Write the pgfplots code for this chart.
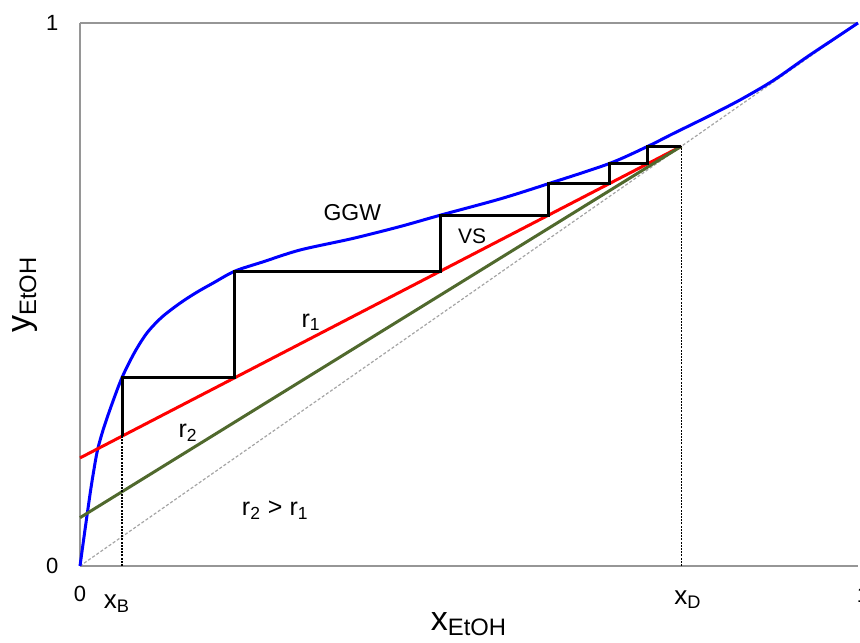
\documentclass[border=0pt]{standalone}
\usepackage{fontspec}
\setmainfont{Liberation Sans}
\usepackage{pgfplots}
\pgfplotsset{compat=1.18}
\definecolor{ggw}{RGB}{0,0,255}
\definecolor{rone}{RGB}{255,0,0}
\definecolor{rtwo}{RGB}{80,105,45}
\definecolor{axgray}{RGB}{150,150,150}
\definecolor{diag}{RGB}{165,165,165}

\begin{document}
\begin{tikzpicture}
\begin{axis}[
  name=ax, at={(0,0)}, anchor=south west,
  scale only axis, width=389pt, height=271.5pt,
  xmin=0, xmax=1, ymin=0, ymax=1,
  axis lines=left, axis line style={-, axgray, line width=0.65pt},
  xtick={0}, ytick={0,1},
  major tick length=0pt,
  tick label style={font=\fontsize{11}{13}\selectfont, text=black},
  /pgf/number format/assume math mode=true,
  xticklabel style={yshift=-6.3pt},
  yticklabel style={xshift=-7.3pt},
  clip=false,
]
\draw[axgray, line width=0.65pt] (rel axis cs:0,1) -- (rel axis cs:1,1);

% diagonal y = x
\addplot[diag, line width=0.6pt, dash pattern=on 1.5pt off 1pt] coordinates {(0,0)(1,1)};

% equilibrium curve (GGW)
\addplot[ggw, line width=1.5pt, smooth, tension=0.5] coordinates {
  (0,0)(0.005,0.052)(0.010,0.103)(0.015,0.152)(0.022,0.210)(0.030,0.252)
  (0.041,0.298)(0.054,0.347)(0.070,0.393)(0.086,0.429)(0.105,0.458)
  (0.1285,0.484)(0.150,0.504)(0.171,0.521)(0.199,0.543)(0.235,0.560)
  (0.283,0.582)(0.350,0.603)(0.411,0.625)(0.463,0.646)(0.540,0.676)
  (0.602,0.704)(0.680,0.741)(0.730,0.773)(0.762,0.796)(0.806,0.827)
  (0.848,0.858)(0.891,0.894)(0.934,0.937)(0.977,0.978)(1,1)};

% operating lines
\addplot[rone, line width=1.5pt] coordinates {(0,0.199)(0.773,0.773)};
\addplot[rtwo, line width=1.5pt] coordinates {(0,0.089)(0.773,0.773)};

% x_B and x_D markers
\addplot[black, line width=0.6pt, dash pattern=on 1pt off 0.6pt] coordinates {(0.054,0)(0.054,0.239)};
\addplot[black, line width=0.6pt, dash pattern=on 1pt off 0.6pt] coordinates {(0.773,0)(0.773,0.773)};

% stages
\addplot[black, line width=1.5pt, line join=miter] coordinates {
  (0.773,0.773)(0.730,0.773)(0.730,0.741)(0.680,0.741)(0.680,0.704)
  (0.602,0.704)(0.602,0.646)(0.463,0.646)(0.463,0.543)(0.199,0.543)
  (0.199,0.347)(0.054,0.347)(0.054,0.239)};

\node[font=\fontsize{11.5}{13}\selectfont] at (axis cs:0.350,0.650) {GGW};
\node[font=\fontsize{10.5}{12}\selectfont] at (axis cs:0.504,0.608) {VS};
\node[font=\fontsize{12.5}{14}\selectfont] at (axis cs:0.297,0.449) {r\textsubscript{1}};
\node[font=\fontsize{12.5}{14}\selectfont] at (axis cs:0.139,0.245) {r\textsubscript{2}};
\node[font=\fontsize{12.5}{14}\selectfont] at (axis cs:0.251,0.103) {r\textsubscript{2} > r\textsubscript{1}};

\node[anchor=base, font=\fontsize{13}{15}\selectfont] at (axis cs:0.0476,0) [yshift=-21pt] {x\textsubscript{B}};
\node[anchor=base, font=\fontsize{13}{15}\selectfont] at (axis cs:0.7815,0) [yshift=-19pt] {x\textsubscript{D}};
\node[anchor=base, font=\fontsize{11}{13}\selectfont] at (axis cs:1,0) [xshift=2.5pt, yshift=-18pt] {1};

\node[anchor=base, font=\fontsize{17}{20}\selectfont] at (rel axis cs:0.5,0) [yshift=-32pt] {x\textsubscript{EtOH}};
\node[xshift=-24.5pt, rotate=90, anchor=base, font=\fontsize{17}{20}\selectfont] at (rel axis cs:0,0.5) {y\textsubscript{EtOH}};
\end{axis}
\pgfresetboundingbox
\path[use as bounding box] ([shift={(-40pt,-38pt)}]ax.south west) rectangle ([shift={(1pt,11.5pt)}]ax.north east);
\end{tikzpicture}
\end{document}
